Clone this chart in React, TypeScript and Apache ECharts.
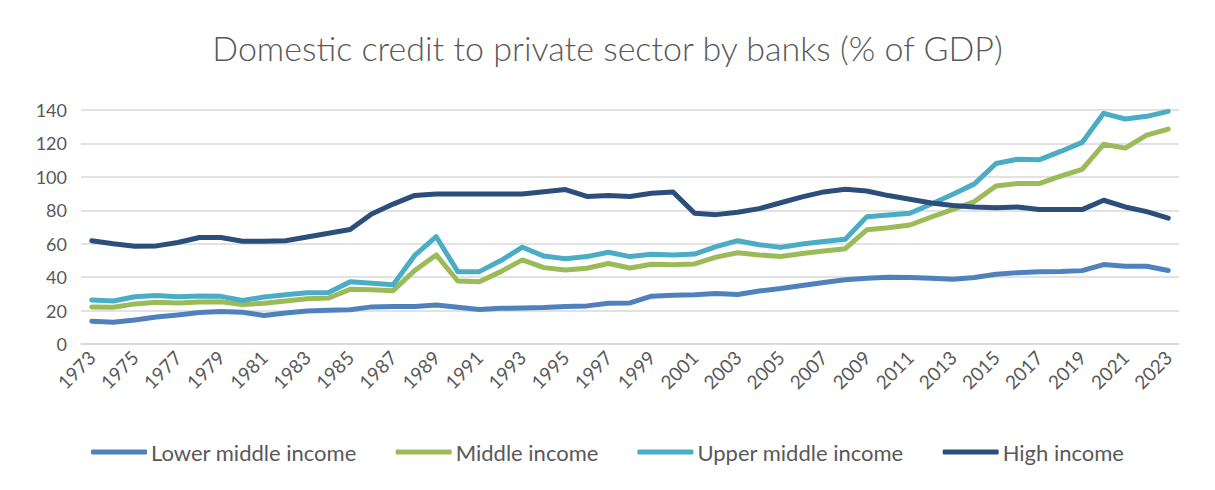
import React, { useEffect, useRef } from "react";
import * as echarts from "echarts";

const years: string[] = [];
for (let y = 1973; y <= 2023; y++) years.push(String(y));

const lowerMiddle = [
  13.6, 13.0, 14.4, 16.2, 17.4, 18.8, 19.5, 19.0, 17.0, 18.5,
  19.8, 20.2, 20.5, 22.2, 22.4, 22.4, 23.3, 22.0, 20.6, 21.4,
  21.5, 21.8, 22.4, 22.8, 24.4, 24.6, 28.6, 29.2, 29.4, 30.2,
  29.6, 31.7, 33.2, 35.0, 36.8, 38.4, 39.4, 40.0, 39.8, 39.3,
  38.8, 39.8, 41.7, 42.7, 43.2, 43.4, 43.9, 47.5, 46.5, 46.5,
  44.0,
];
const middle = [
  22.2, 22.0, 24.0, 25.0, 24.6, 25.1, 25.3, 23.6, 24.4, 25.7,
  27.1, 27.5, 32.7, 32.5, 31.9, 44.0, 53.3, 37.7, 37.3, 43.3,
  50.3, 45.7, 44.3, 45.3, 48.2, 45.5, 47.7, 47.4, 47.9, 52.0,
  54.6, 53.3, 52.3, 54.2, 55.6, 57.0, 68.3, 69.5, 71.2, 76.0,
  80.6, 85.2, 94.5, 96.0, 96.0, 100.4, 104.5, 119.5, 117.2, 125.0,
  128.6,
];
const upperMiddle = [
  26.3, 25.7, 28.3, 29.0, 28.2, 28.7, 28.5, 26.0, 28.1, 29.4,
  30.7, 30.8, 37.2, 36.3, 35.5, 53.0, 64.2, 43.3, 43.3, 49.9,
  57.9, 52.6, 51.0, 52.3, 54.9, 52.3, 53.7, 53.2, 53.8, 58.3,
  61.8, 59.4, 57.8, 59.8, 61.3, 62.7, 76.2, 77.2, 78.2, 83.8,
  89.6, 95.8, 108.0, 110.5, 110.2, 115.2, 120.6, 138.0, 134.6, 136.2,
  139.2,
];
const high = [
  61.8, 60.0, 58.5, 58.7, 60.7, 63.7, 63.7, 61.5, 61.5, 61.8,
  64.0, 66.3, 68.5, 77.8, 83.7, 88.9, 89.8, 89.8, 89.8, 89.7,
  89.7, 91.1, 92.4, 88.3, 88.8, 88.2, 90.2, 91.0, 78.2, 77.4,
  78.8, 81.0, 84.5, 88.0, 91.0, 92.6, 91.5, 88.8, 86.6, 84.4,
  82.8, 82.0, 81.5, 82.0, 80.5, 80.4, 80.4, 86.0, 82.0, 79.2,
  75.3,
];

const seriesNames = ["Lower middle income", "Middle income", "Upper middle income", "High income"];
const seriesColors = ["#4f81bd", "#9bbb59", "#4bacc6", "#2c4e7a"];
const seriesData = [lowerMiddle, middle, upperMiddle, high];

const FONT = "Lato, 'Open Sans', sans-serif";

export default function App() {
  const ref = useRef<HTMLDivElement>(null);
  useEffect(() => {
    document.body.style.margin = "0";
    if (!ref.current) return;
    const chart = echarts.init(ref.current, null, { renderer: "svg" });
    chart.setOption({
      animation: false,
      backgroundColor: "#ffffff",
      title: {
        text: "Domestic credit to private sector by banks (% of GDP)",
        left: "center",
        top: 25,
        textStyle: { fontFamily: FONT, fontSize: 34, fontWeight: 300, color: "#595959" },
      },
      grid: { left: 81, right: 36, top: 110, bottom: 146, containLabel: false },
      legend: {
        bottom: 22,
        left: "center",
        icon: "roundRect",
        itemWidth: 56,
        itemHeight: 5,
        itemGap: 39,
        textStyle: { fontFamily: FONT, fontSize: 22, color: "#595959", padding: [0, 0, 0, -1] },
        data: seriesNames,
      },
      xAxis: {
        type: "category",
        data: years,
        boundaryGap: true,
        axisTick: { show: false },
        axisLine: { show: true, lineStyle: { color: "#d9d9d9", width: 1.5 } },
        axisLabel: {
          interval: 1,
          rotate: 45,
          margin: 10,
          fontFamily: FONT,
          fontSize: 19,
          color: "#595959",
        },
      },
      yAxis: {
        type: "value",
        min: 0,
        max: 140,
        interval: 20,
        axisLine: { show: false },
        axisTick: { show: false },
        splitLine: { lineStyle: { color: "#d9d9d9", width: 1.5 } },
        axisLabel: { margin: 14, fontFamily: FONT, fontSize: 18, color: "#595959" },
      },
      series: seriesNames.map((name, i) => ({
        name,
        type: "line",
        data: seriesData[i],
        showSymbol: false,
        symbol: "none",
        color: seriesColors[i],
        lineStyle: { width: 5, color: seriesColors[i], cap: "round", join: "round" },
      })),
    });
    return () => chart.dispose();
  }, []);
  return <div ref={ref} style={{ width: 1215, height: 490 }} />;
}
